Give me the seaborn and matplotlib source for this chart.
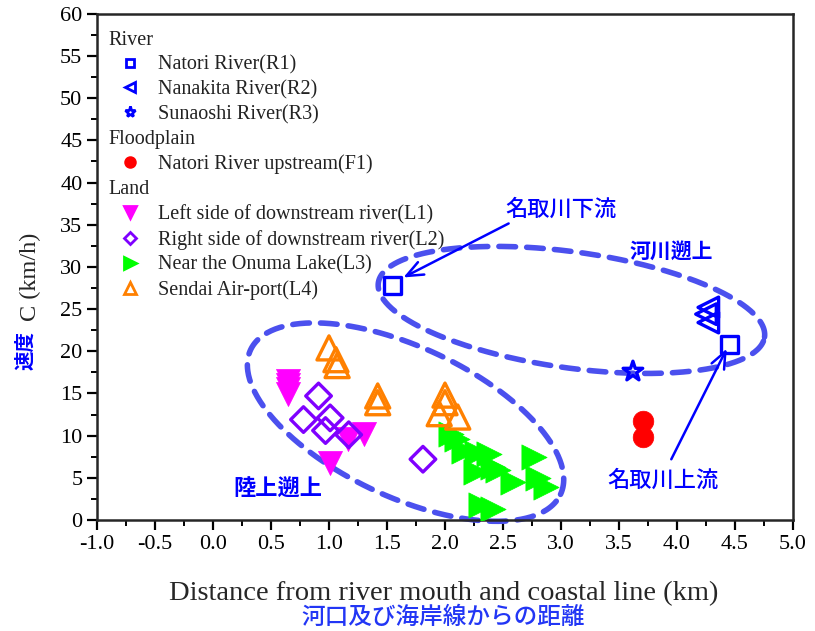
import matplotlib
matplotlib.use("Agg")
import matplotlib.pyplot as plt
import numpy as np
import pandas as pd
import seaborn as sns
from matplotlib.lines import Line2D

# ---- data ----
r1_x = [1.55, 4.45]
r1_y = [27.8, 20.8]
r2_x = [4.27, 4.25, 4.27]
r2_y = [25.2, 24.4, 23.4]
r3_x = [3.62]
r3_y = [17.6]
f1_x = [3.71, 3.71]
f1_y = [11.7, 9.8]
l1_x = [0.65, 0.65, 0.65, 0.65, 1.30, 1.16, 1.01]
l1_y = [16.5, 16.0, 15.5, 14.9, 10.2, 9.6, 6.8]
l2_x = [0.91, 0.78, 1.01, 0.97, 1.17, 1.81]
l2_y = [14.7, 11.9, 12.1, 10.6, 10.1, 7.2]
l3_x = [2.05, 2.10, 2.16, 2.28, 2.38, 2.27, 2.41, 2.46, 2.59, 2.77, 2.80, 2.87, 2.31, 2.41]
l3_y = [10.2, 9.6, 8.2, 7.9, 7.8, 5.7, 6.3, 5.9, 4.5, 7.5, 5.0, 3.9, 1.8, 1.3]
l4_x = [1.00, 1.06, 1.07, 1.42, 1.42, 2.00, 2.00, 1.95, 2.11]
l4_y = [20.4, 19.0, 18.3, 14.7, 13.9, 14.8, 13.9, 12.6, 12.2]

BLUE = "#0000FF"
DASH = "#4B50EE"
JP_LABEL = "#2236F5"
SERIF = "Liberation Serif"
CJK = ["Noto Sans CJK JP", "DejaVu Sans"]

sns.set_style("ticks")
plt.rcParams.update({
    "font.family": SERIF,
    "axes.linewidth": 1.8,
    "xtick.major.width": 1.6,
    "ytick.major.width": 1.6,
    "xtick.minor.width": 1.4,
    "ytick.minor.width": 1.4,
    "xtick.major.size": 7,
    "ytick.major.size": 7,
    "xtick.minor.size": 4,
    "ytick.minor.size": 4,
    "xtick.color": "black",
    "ytick.color": "black",
})

fig = plt.figure(figsize=(8.15, 6.31), dpi=100)
ax = fig.add_axes([0.119, 0.176, 0.854, 0.802])

groups = [
    ("River", None),
    ("Natori River(R1)", dict(x=r1_x, y=r1_y, marker="s", color=BLUE, filled=False, s=150, ms=6)),
    ("Nanakita River(R2)", dict(x=r2_x, y=r2_y, marker="<", color=BLUE, filled=False, s=220, ms=7)),
    ("Sunaoshi River(R3)", dict(x=r3_x, y=r3_y, marker="*", color=BLUE, filled=False, s=220, ms=8)),
    ("Floodplain", None),
    ("Natori River upstream(F1)", dict(x=f1_x, y=f1_y, marker="o", color="#FF0000", filled=True, s=220, ms=7)),
    ("Land", None),
    ("Left side of downstream river(L1)", dict(x=l1_x, y=l1_y, marker="v", color="#FF00FF", filled=True, s=300, ms=8)),
    ("Right side of downstream river(L2)", dict(x=l2_x, y=l2_y, marker="D", color="#7F00FF", filled=False, s=170, ms=6)),
    ("Near the Onuma Lake(L3)", dict(x=l3_x, y=l3_y, marker=">", color="#00FF00", filled=True, s=330, ms=8)),
    ("Sendai Air-port(L4)", dict(x=l4_x, y=l4_y, marker="^", color="#FF8000", filled=False, s=300, ms=8)),
]

handles = []
labels = []
for label, g in groups:
    labels.append(label)
    if g is None:
        handles.append(Line2D([], [], linestyle="none"))
        continue
    df = pd.DataFrame({"x": g["x"], "y": g["y"]})
    if g["filled"]:
        sns.scatterplot(data=df, x="x", y="y", ax=ax, marker=g["marker"], s=g["s"],
                        color=g["color"], edgecolor=g["color"], linewidth=0.5, legend=False, zorder=3)
    else:
        sns.scatterplot(data=df, x="x", y="y", ax=ax, marker=g["marker"], s=g["s"],
                        color=g["color"], facecolor="none", edgecolor=g["color"],
                        linewidth=2.4, legend=False, zorder=3)
    handles.append(Line2D([], [], linestyle="none", marker=g["marker"], markersize=g["ms"],
                          markeredgecolor=g["color"], markeredgewidth=2,
                          markerfacecolor=g["color"] if g["filled"] else "none"))

ax.set_xlim(-1.0, 5.0)
ax.set_ylim(0, 60)
ax.set_xticks(np.arange(-1.0, 5.01, 0.5))
ax.set_xticks(np.arange(-1.0, 5.01, 0.25), minor=True)
ax.set_yticks(np.arange(0, 61, 5))
ax.set_yticks(np.arange(0, 61, 2.5), minor=True)
ax.set_xticklabels([f"{v:.1f}" for v in np.arange(-1.0, 5.01, 0.5)])
ax.tick_params(labelsize=16, direction="out", top=False, right=False)
for s in ax.spines.values():
    s.set_visible(True)
ax.set_xlabel("")
ax.set_ylabel("")

# ---- dashed groupings (drawn in screen-proportional units) ----
fig.canvas.draw()
bb = ax.get_window_extent()
px_x = bb.width / 6.0
px_y = bb.height / 60.0


def dashed_ellipse(cx, cy, a_px, b_px, ang_deg):
    t = np.linspace(0, 2 * np.pi, 400)
    th = np.deg2rad(ang_deg)
    u = a_px * np.cos(t) * np.cos(th) - b_px * np.sin(t) * np.sin(th)
    v = a_px * np.cos(t) * np.sin(th) + b_px * np.sin(t) * np.cos(th)
    ax.plot(cx + u / px_x, cy + v / px_y, color=DASH, lw=4, ls=(0, (3, 2)),
            dash_capstyle="round", zorder=2, clip_on=False)


dashed_ellipse(1.66, 11.6, 171, 75, -25)
dashed_ellipse(3.09, 24.9, 195, 58, -8)

# ---- annotations ----
ax.annotate("", xy=(1.62, 28.6), xytext=(2.57, 35.3),
            arrowprops=dict(arrowstyle="->,head_length=1.2,head_width=0.5", color=BLUE, lw=1.8))
ax.annotate("", xy=(4.44, 20.6), xytext=(3.94, 6.9),
            arrowprops=dict(arrowstyle="->,head_length=1.2,head_width=0.5", color=BLUE, lw=1.8))
ax.text(3.0, 36.8, "名取川下流", color=BLUE, fontsize=16, family=CJK, weight="medium", ha="center", va="center")
ax.text(3.88, 4.7, "名取川上流", color=BLUE, fontsize=16, family=CJK, weight="medium", ha="center", va="center")
ax.text(3.95, 31.8, "河川遡上", color=BLUE, fontsize=15, family=CJK, weight="bold", ha="center", va="center")
ax.text(0.56, 3.6, "陸上遡上", color=BLUE, fontsize=16, family=CJK, weight="bold", ha="center", va="center")

# ---- axis titles ----
fig.text(0.544, 0.060, "Distance from river mouth and coastal line (km)", fontsize=20.5,
         family=SERIF, ha="center", va="center")
fig.text(0.544, 0.022, "河口及び海岸線からの距離", fontsize=17, family=CJK, color=JP_LABEL,
         weight="medium", ha="center", va="center")
fig.text(0.037, 0.562, "C (km/h)", fontsize=17.5, family=SERIF, rotation=90, ha="center", va="center")
fig.text(0.032, 0.445, "速度", fontsize=14, family=CJK, color=BLUE, weight="bold",
         rotation=90, ha="center", va="center")

# ---- legend with section headings ----
leg = ax.legend(handles, labels, loc="upper left", bbox_to_anchor=(0.030, 0.967), frameon=False,
                fontsize=14.5, handlelength=1.2, handletextpad=0.8, labelspacing=0.28,
                borderaxespad=0.0, borderpad=0.0)
for txt in leg.get_texts():
    txt.set_color("#222222")
for vpack in leg._legend_handle_box.get_children():
    for hpack in vpack.get_children():
        label_text = hpack.get_children()[1].get_text() if len(hpack.get_children()) > 1 else ""
        if label_text in ("River", "Floodplain", "Land"):
            hpack.get_children()[0].set_width(-18.5)

fig.savefig("out.png", dpi=100, facecolor="white")
